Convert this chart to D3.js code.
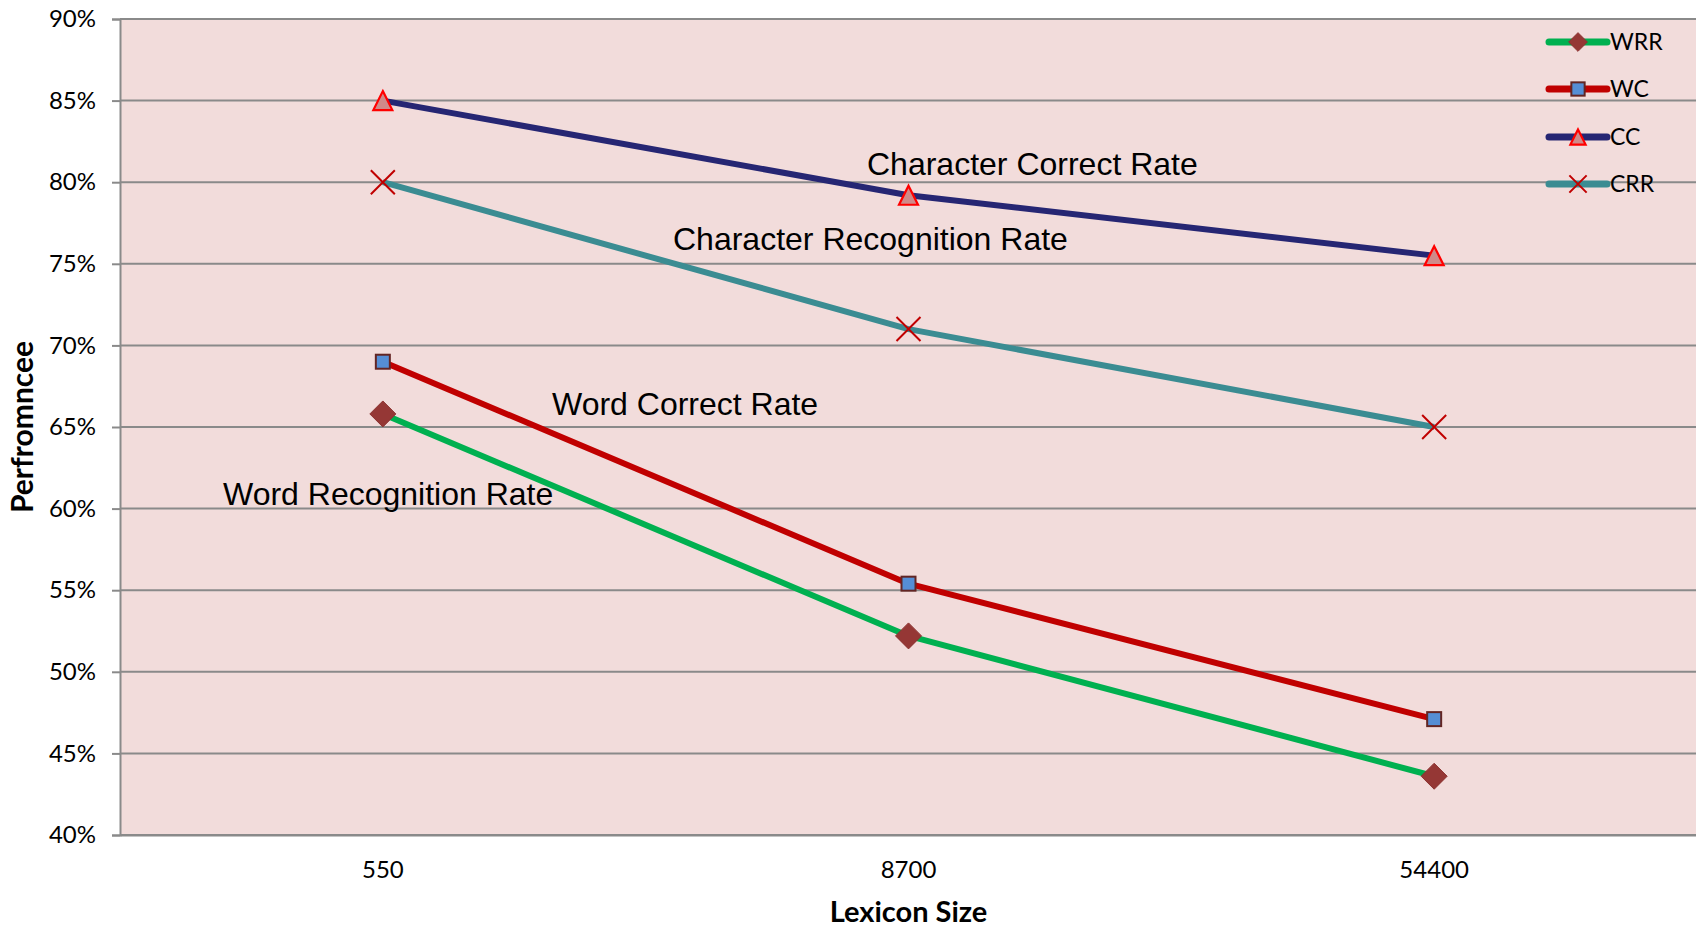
<!DOCTYPE html>
<html>
<head>
<meta charset="utf-8">
<script src="https://cdn.jsdelivr.net/npm/d3@7"></script>
<style>
  html, body { margin: 0; padding: 0; background: #ffffff; }
  svg { display: block; }
</style>
</head>
<body>
<svg id="chart" width="1696" height="927"></svg>
<script>
// ---- data ----
const categories = ["550", "8700", "54400"];
const wrr = [0.658, 0.522, 0.436];
const wc  = [0.690, 0.554, 0.471];
const cc  = [0.850, 0.792, 0.755];
const crr = [0.800, 0.710, 0.650];
const seriesNames = ["WRR", "WC", "CC", "CRR"];
const yTicks = [0.40, 0.45, 0.50, 0.55, 0.60, 0.65, 0.70, 0.75, 0.80, 0.85, 0.90];
const annotationLabels = ["Character Correct Rate", "Character Recognition Rate", "Word Correct Rate", "Word Recognition Rate"];
const xTitle = "Lexicon Size";
const yTitle = "Perfromncee";

// ---- layout ----
const W = 1696, H = 927;
const plot = { left: 120, right: 1697, top: 19, bottom: 835 };
const svg = d3.select("#chart");

const x = d3.scaleBand().domain(categories).range([plot.left, plot.right]).padding(0);
const xc = c => x(c) + x.bandwidth() / 2;
const y = d3.scaleLinear().domain([0.40, 0.90]).range([plot.bottom, plot.top]);

const styles = {
  WRR: { color: "#00b050", marker: "diamond" },
  WC:  { color: "#c00000", marker: "square" },
  CC:  { color: "#262673", marker: "triangle" },
  CRR: { color: "#3b8c92", marker: "cross" }
};
const seriesData = { WRR: wrr, WC: wc, CC: cc, CRR: crr };

// plot background
svg.append("rect")
  .attr("x", plot.left).attr("y", plot.top)
  .attr("width", plot.right - plot.left).attr("height", plot.bottom - plot.top)
  .attr("fill", "#f2dcdb");

// gridlines
svg.append("g").selectAll("line").data(yTicks).join("line")
  .attr("x1", plot.left).attr("x2", plot.right)
  .attr("y1", d => y(d)).attr("y2", d => y(d))
  .attr("stroke", "#8a8a8a").attr("stroke-width", 2);

// y axis
const yAxis = d3.axisLeft(y).tickValues(yTicks).tickSize(8).tickPadding(16)
  .tickFormat(d => Math.round(d * 100) + "%");
const gy = svg.append("g").attr("transform", `translate(${plot.left},0)`).call(yAxis);
gy.select(".domain").attr("stroke", "#8a8a8a").attr("stroke-width", 2);
gy.selectAll(".tick line").attr("stroke", "#8a8a8a").attr("stroke-width", 2);
gy.selectAll(".tick text").attr("font-family", "Lato, 'Open Sans', sans-serif")
  .attr("font-size", 24).attr("fill", "#000");

// x axis
const xAxis = d3.axisBottom(x).tickSize(0).tickPadding(26);
const gx = svg.append("g").attr("transform", `translate(0,${plot.bottom})`).call(xAxis);
gx.select(".domain").attr("stroke", "#8a8a8a").attr("stroke-width", 2);
gx.selectAll(".tick text").attr("font-family", "Lato, 'Open Sans', sans-serif")
  .attr("font-size", 24).attr("fill", "#000");

// axis titles
svg.append("text").text(xTitle)
  .attr("x", xc(categories[1])).attr("y", 922)
  .attr("text-anchor", "middle")
  .attr("font-family", "Lato, 'Open Sans', sans-serif").attr("font-weight", "bold")
  .attr("font-size", 29).attr("fill", "#000");
svg.append("text").text(yTitle)
  .attr("transform", `translate(33,427) rotate(-90)`)
  .attr("text-anchor", "middle")
  .attr("font-family", "Lato, 'Open Sans', sans-serif").attr("font-weight", "bold")
  .attr("font-size", 30).attr("fill", "#000");

// marker drawing
function drawMarker(g, type, cx, cy, s) {
  if (type === "diamond") {
    const r = 13 * s;
    g.append("path")
      .attr("d", `M${cx},${cy - r}L${cx + r},${cy}L${cx},${cy + r}L${cx - r},${cy}Z`)
      .attr("fill", "#953735").attr("stroke", "#8c3230").attr("stroke-width", 1);
  } else if (type === "square") {
    const h = 7 * s;
    g.append("rect")
      .attr("x", cx - h).attr("y", cy - h).attr("width", 2 * h).attr("height", 2 * h)
      .attr("fill", "#558ed5").attr("stroke", "#632523").attr("stroke-width", 2);
  } else if (type === "triangle") {
    const h = 9.5 * s;
    g.append("path")
      .attr("d", `M${cx},${cy - h}L${cx + h},${cy + h}L${cx - h},${cy + h}Z`)
      .attr("fill", "#d08a89").attr("stroke", "#ff0000").attr("stroke-width", 2.2)
      .attr("stroke-linejoin", "miter");
  } else if (type === "cross") {
    const h = 12 * s;
    g.append("path")
      .attr("d", `M${cx - h},${cy - h}L${cx + h},${cy + h}M${cx - h},${cy + h}L${cx + h},${cy - h}`)
      .attr("stroke", "#c00000").attr("stroke-width", 2).attr("fill", "none");
  }
}

// series
const line = d3.line().x((d, i) => xc(categories[i])).y(d => y(d));
seriesNames.forEach(name => {
  const st = styles[name];
  const vals = seriesData[name];
  const g = svg.append("g");
  g.append("path").datum(vals)
    .attr("d", line)
    .attr("fill", "none").attr("stroke", st.color)
    .attr("stroke-width", 6).attr("stroke-linejoin", "round");
  vals.forEach((v, i) => drawMarker(g, st.marker, xc(categories[i]), y(v), 1));
});

// annotations
const annoPos = [[867, 175], [673, 250], [552, 415], [223, 505]];
svg.append("g").selectAll("text").data(annotationLabels).join("text")
  .text(d => d)
  .attr("x", (d, i) => annoPos[i][0]).attr("y", (d, i) => annoPos[i][1])
  .attr("font-family", "'Liberation Sans', Arial, sans-serif")
  .attr("font-size", 32).attr("fill", "#000");

// legend
const legend = svg.append("g");
const legendY = [42, 89, 137, 184];
const legendScale = { WRR: 0.72, WC: 0.95, CC: 0.8, CRR: 0.72 };
seriesNames.forEach((name, i) => {
  const st = styles[name];
  const ly = legendY[i];
  legend.append("line")
    .attr("x1", 1549).attr("x2", 1607).attr("y1", ly).attr("y2", ly)
    .attr("stroke", st.color).attr("stroke-width", 7).attr("stroke-linecap", "round");
  drawMarker(legend, st.marker, 1578, ly, legendScale[name]);
  legend.append("text").text(name)
    .attr("x", 1610).attr("y", ly).attr("dy", "0.35em")
    .attr("font-family", "Lato, 'Open Sans', sans-serif")
    .attr("font-size", 23).attr("fill", "#000");
});
</script>
</body>
</html>
